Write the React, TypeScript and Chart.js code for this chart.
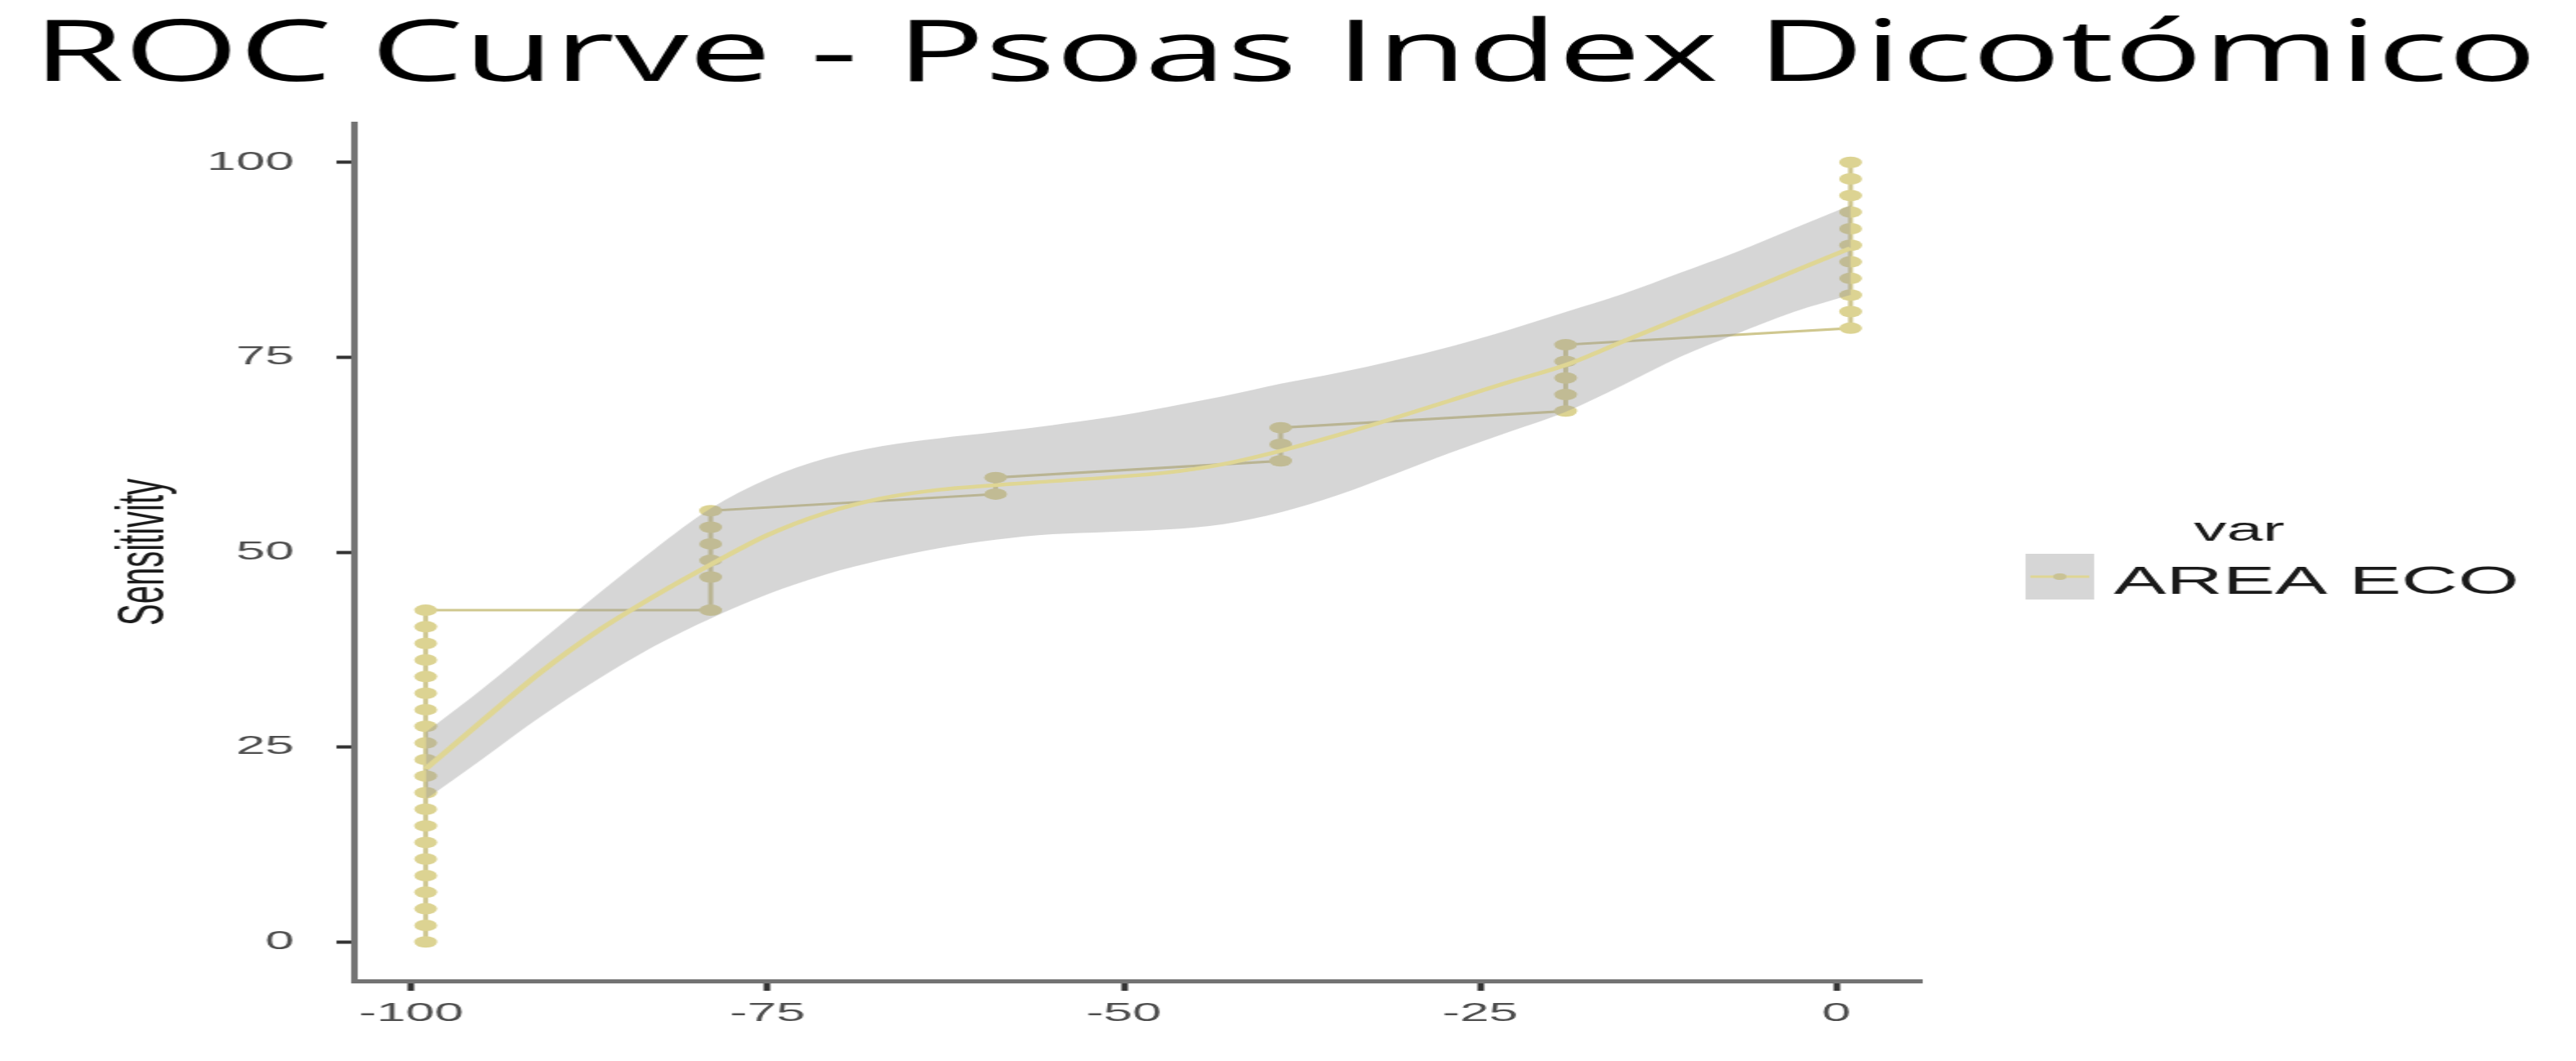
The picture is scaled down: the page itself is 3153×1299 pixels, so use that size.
import React, { useEffect, useRef } from "react";
import { Chart, registerables } from "chart.js";

Chart.register(...registerables);

// ---------- text ----------
const TITLE = "ROC Curve - Psoas Index Dicotómico";
const Y_TITLE = "Sensitivity";
const LEGEND_TITLE = "var";
const SERIES_NAME = "AREA ECO";

// ---------- ticks ----------
const xTicks = [-100, -75, -50, -25, 0];
const yTicks = [0, 25, 50, 75, 100];

// ---------- ROC step points ----------
const rocX = [
  -99, -99, -99, -99, -99, -99, -99, -99, -99, -99, -99,
  -99, -99, -99, -99, -99, -99, -99, -99, -99, -99,
  -79, -79, -79, -79, -79, -79,
  -59, -59,
  -39, -39, -39,
  -19, -19, -19, -19, -19,
  1, 1, 1, 1, 1, 1, 1, 1, 1, 1, 1,
];
const rocY = [
  0, 2.13, 4.26, 6.38, 8.51, 10.64, 12.77, 14.89, 17.02, 19.15, 21.28,
  23.4, 25.53, 27.66, 29.79, 31.91, 34.04, 36.17, 38.3, 40.43, 42.55,
  42.55, 46.81, 48.94, 51.06, 53.19, 55.32,
  57.45, 59.57,
  61.7, 63.83, 65.96,
  68.09, 70.21, 72.34, 74.47, 76.6,
  78.72, 80.85, 82.98, 85.11, 87.23, 89.36, 91.49, 93.62, 95.74, 97.87, 100,
];

// ---------- smoothed curve and confidence band ----------
const smoothX = [
  -99, -95, -91, -87, -83, -79, -75, -71, -67, -63, -59, -55, -51,
  -47, -43, -39, -35, -31, -27, -23, -19, -15, -11, -7, -3, 1,
];
const smoothY = [
  22.2, 28.4, 34.5, 39.8, 44.3, 48.4, 52.2, 55.0, 56.9, 58.0, 58.6, 59.1, 59.6,
  60.2, 61.3, 63.0, 65.0, 67.2, 69.5, 71.8, 74.0, 77.0, 80.0, 83.0, 86.0, 89.0,
];
const upperY = [
  26.9, 32.5, 38.5, 44.5, 50.3, 55.6, 59.4, 62.0, 63.6, 64.6, 65.4, 66.3, 67.3,
  68.6, 70.0, 71.6, 73.0, 74.6, 76.4, 78.5, 80.8, 83.1, 85.8, 88.5, 91.5, 94.5,
];
const lowerY = [
  18.3, 23.5, 28.8, 33.6, 37.9, 41.5, 44.6, 47.1, 49.0, 50.5, 51.6, 52.3, 52.6,
  52.9, 53.6, 55.1, 57.3, 60.0, 62.8, 65.4, 68.0, 71.4, 75.0, 78.0, 80.8, 83.0,
];

// ---------- page geometry (canvas is stretched horizontally like the reference) ----------
const PAGE_W = 3153;
const PAGE_H = 1299;
const STRETCH = 2;
const BW = Math.round(PAGE_W / STRETCH);

const SERIES_COLOR = "#DCD392";
const STEP_COLOR = "#CFC78F";
const SMOOTH_COLOR = "#DFD694";
const BAND_COLOR = "rgba(153,153,153,0.4)";

const titlePlugin = {
  id: "customTitle",
  afterDraw(chart: any) {
    const ctx = chart.ctx;
    ctx.save();
    ctx.font = '400 104px "Open Sans"';
    ctx.fillStyle = "#000000";
    ctx.textBaseline = "alphabetic";
    ctx.textAlign = "left";
    const w = ctx.measureText(TITLE).width;
    const left = 20;
    const right = 1553;
    ctx.translate(left, 99);
    ctx.scale((right - left) / w, 1);
    ctx.fillText(TITLE, 0, 0);
    ctx.restore();
  },
};

const legendPlugin = {
  id: "customLegend",
  afterDraw(chart: any) {
    const ctx = chart.ctx;
    ctx.save();
    ctx.textBaseline = "alphabetic";
    ctx.textAlign = "left";
    ctx.fillStyle = "#1A1A1A";
    ctx.font = '40px "Liberation Sans"';
    ctx.fillText(LEGEND_TITLE, 1343, 662);

    // key
    const kx = 1240, ky = 678, kw = 42, kh = 56;
    ctx.fillStyle = "#D6D6D6";
    ctx.fillRect(kx, ky, kw, kh);
    ctx.strokeStyle = SMOOTH_COLOR;
    ctx.lineWidth = 3;
    ctx.beginPath();
    ctx.moveTo(kx + 3, ky + kh / 2);
    ctx.lineTo(kx + kw - 3, ky + kh / 2);
    ctx.stroke();
    ctx.fillStyle = "#C9C294";
    ctx.beginPath();
    ctx.arc(kx + kw / 2, ky + kh / 2, 4, 0, Math.PI * 2);
    ctx.fill();

    ctx.fillStyle = "#1A1A1A";
    ctx.font = '48px "Liberation Sans"';
    ctx.fillText(SERIES_NAME, 1294, 727);
    ctx.restore();
  },
};

export default function App() {
  const canvasRef = useRef<HTMLCanvasElement | null>(null);

  useEffect(() => {
    const canvas = canvasRef.current;
    if (!canvas) return;

    const rocData = rocX.map((x, i) => ({ x, y: rocY[i] }));
    const smoothData = smoothX.map((x, i) => ({ x, y: smoothY[i] }));
    const upperData = smoothX.map((x, i) => ({ x, y: upperY[i] }));
    const lowerData = smoothX.map((x, i) => ({ x, y: lowerY[i] }));

    const tickFont = { family: '"Liberation Sans", Arial, sans-serif', size: 32 };

    const chart = new Chart(canvas, {
      type: "line",
      data: {
        datasets: [
          {
            label: "smooth",
            data: smoothData,
            borderColor: SMOOTH_COLOR,
            borderWidth: 4.5,
            pointRadius: 0,
            cubicInterpolationMode: "monotone",
            fill: false,
            order: 0,
          },
          {
            label: "upper",
            data: upperData,
            borderColor: "rgba(0,0,0,0)",
            borderWidth: 1,
            pointRadius: 0,
            cubicInterpolationMode: "monotone",
            fill: "+1",
            backgroundColor: BAND_COLOR,
            order: 1,
          },
          {
            label: "lower",
            data: lowerData,
            borderColor: "rgba(0,0,0,0)",
            borderWidth: 1,
            pointRadius: 0,
            cubicInterpolationMode: "monotone",
            fill: false,
            order: 2,
          },
          {
            label: SERIES_NAME,
            data: rocData,
            borderColor: STEP_COLOR,
            borderWidth: 3,
            tension: 0,
            pointRadius: 7,
            pointHoverRadius: 7,
            pointBackgroundColor: SERIES_COLOR,
            pointBorderColor: SERIES_COLOR,
            pointBorderWidth: 0,
            fill: false,
            order: 3,
          },
        ],
      },
      options: {
        animation: false,
        responsive: false,
        devicePixelRatio: 1,
        events: [],
        layout: { padding: { left: 40, top: 151, right: BW - 1176.5, bottom: 0 } },
        plugins: {
          legend: { display: false },
          title: { display: false },
          tooltip: { enabled: false },
        },
        scales: {
          x: {
            type: "linear",
            min: -104,
            max: 6,
            afterBuildTicks: (s: any) => {
              s.ticks = xTicks.map((v) => ({ value: v }));
            },
            afterFit: (s: any) => {
              s.height = PAGE_H - 1201;
            },
            grid: {
              display: true,
              drawOnChartArea: false,
              drawTicks: true,
              tickLength: 12,
              tickWidth: 4,
              tickColor: "#333333",
            },
            border: { display: true, color: "#737373", width: 5 },
            ticks: {
              color: "#4D4D4D",
              font: tickFont,
              padding: 9,
              maxRotation: 0,
              autoSkip: false,
              callback: (v: any) => String(v),
            },
          },
          y: {
            type: "linear",
            min: -5,
            max: 105,
            afterBuildTicks: (s: any) => {
              s.ticks = yTicks.map((v) => ({ value: v }));
            },
            afterFit: (s: any) => {
              s.width = 217 - 40;
            },
            grid: {
              display: true,
              drawOnChartArea: false,
              drawTicks: true,
              tickLength: 11,
              tickWidth: 4,
              tickColor: "#333333",
            },
            border: { display: true, color: "#737373", width: 4 },
            ticks: {
              color: "#4D4D4D",
              font: tickFont,
              padding: 26,
              autoSkip: false,
              callback: (v: any) => String(v),
            },
            title: {
              display: true,
              text: Y_TITLE,
              color: "#1A1A1A",
              font: { family: '"Liberation Sans", Arial, sans-serif', size: 40 },
              padding: { top: 25, bottom: 0 },
            },
          },
        },
      },
      plugins: [titlePlugin, legendPlugin],
    } as any);

    return () => {
      chart.destroy();
    };
  }, []);

  return (
    <div
      style={{
        position: "fixed",
        left: 0,
        top: 0,
        width: PAGE_W,
        height: PAGE_H,
        background: "#ffffff",
        overflow: "hidden",
      }}
    >
      <canvas
        ref={canvasRef}
        width={BW}
        height={PAGE_H}
        style={{ width: PAGE_W + "px", height: PAGE_H + "px", display: "block" }}
      />
    </div>
  );
}
